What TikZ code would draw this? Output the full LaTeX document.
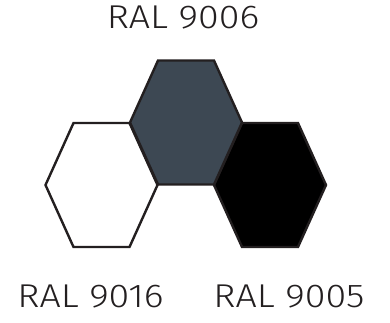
\documentclass[tikz,border=0pt]{standalone}
\usepackage{fontspec}
\setmainfont{Fira Sans Light}[FakeStretch=1.14]
\definecolor{ink}{HTML}{231F20}
\definecolor{ralgrey}{HTML}{3D4853}
\begin{document}
\begin{tikzpicture}[x=1pt,y=-1pt,
  hexa/.style={draw=ink,line width=2.4pt,line join=miter},
  lbl/.style={text=ink,font=\fontsize{33}{33}\selectfont,inner sep=0pt,anchor=base}]
\useasboundingbox (0,0) rectangle (390,322);
\def\hexpath{(-56,0) -- (-28,-62) -- (28,-62) -- (56,0) -- (28,62) -- (-28,62) -- cycle}
\draw[hexa,fill=white,shift={(101.5,185)}] \hexpath;
\draw[hexa,fill=black,shift={(270,185)}] \hexpath;
\draw[hexa,fill=ralgrey,shift={(186,122.5)}] \hexpath;
\node[lbl] (t) at (183,28) {RAL 9006};
\node[lbl] (l) at (90.5,307) {RAL 9016};
\node[lbl] (r) at (289,307) {RAL 9005};
\end{tikzpicture}
\end{document}
